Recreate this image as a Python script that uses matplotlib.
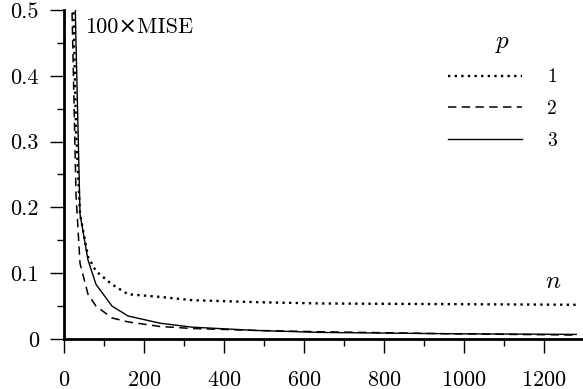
import matplotlib
matplotlib.use("Agg")
import matplotlib.pyplot as plt
from matplotlib.ticker import MultipleLocator

n = [10, 20, 30, 40, 60, 80, 120, 160, 240, 320, 480, 640, 960, 1280]
p1 = [1.2, 0.6, 0.32, 0.19, 0.125, 0.103, 0.083, 0.068, 0.064, 0.059, 0.056, 0.054, 0.053, 0.052]
p2 = [1.0, 0.5, 0.22, 0.115, 0.068, 0.05, 0.032, 0.026, 0.019, 0.016, 0.013, 0.011, 0.008, 0.006]
p3 = [1.5, 0.75, 0.45, 0.19, 0.12, 0.083, 0.05, 0.035, 0.024, 0.018, 0.013, 0.010, 0.008, 0.007]
labels = ["1", "2", "3"]
yticks = [0, 0.1, 0.2, 0.3, 0.4, 0.5]
yticklabels = ["0", "0.1", "0.2", "0.3", "0.4", "0.5"]

plt.rcParams['font.family'] = ['cmr10', 'DejaVu Serif']
plt.rcParams['axes.formatter.use_mathtext'] = True
plt.rcParams['mathtext.fontset'] = 'cm'

fig = plt.figure(figsize=(5.83, 3.89), dpi=100)
ax = fig.add_axes([64/583, 50/389, 519/583, 329/389])

ax.plot(n, p1, color='black', linestyle=(0, (1, 1.8)), linewidth=1.7, label=labels[0])
ax.plot(n, p2, color='black', linestyle=(0, (5.5, 3.5)), linewidth=1.1, label=labels[1])
ax.plot(n, p3, color='black', linestyle='-', linewidth=1.0, label=labels[2])

ax.set_xlim(0, 1297)
ax.set_ylim(0, 0.5)
for s in ['top', 'right']:
    ax.spines[s].set_visible(False)
for s in ['left', 'bottom']:
    ax.spines[s].set_linewidth(2)
ax.xaxis.set_major_locator(MultipleLocator(200))
ax.xaxis.set_minor_locator(MultipleLocator(100))
ax.yaxis.set_minor_locator(MultipleLocator(0.05))
ax.set_yticks(yticks)
ax.set_yticklabels(yticklabels)
ax.tick_params(axis='both', which='major', length=10, width=1, labelsize=16, color='black')
ax.tick_params(axis='both', which='minor', length=5, width=1)
ax.tick_params(axis='x', which='major', pad=13)
ax.tick_params(axis='y', which='major', pad=8)

ax.text(0.04, 0.948, "100×MISE", transform=ax.transAxes, fontsize=16,
        family=['cmr10', 'DejaVu Serif'], va='center', ha='left')
ax.text(0.942, 0.173, "$n$", transform=ax.transAxes, fontsize=18, va='center', ha='center')

leg = ax.legend(loc='upper right', bbox_to_anchor=(0.983, 0.99), frameon=False,
                title="$p$", title_fontsize=18, fontsize=14, handlelength=3.8,
                labelspacing=0.7, handletextpad=1.3)
fig.savefig("out.png", dpi=100)
